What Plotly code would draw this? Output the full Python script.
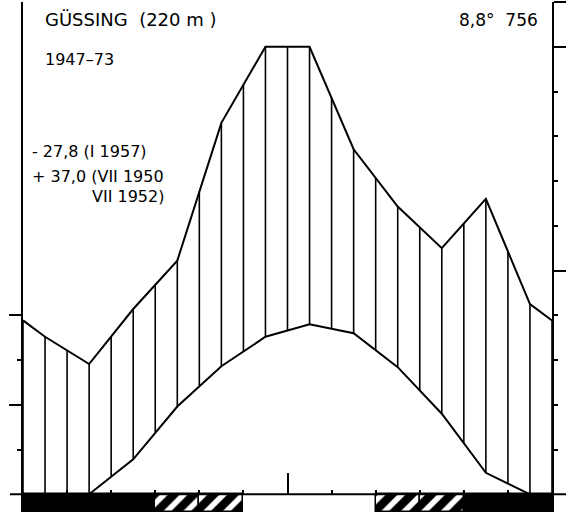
import numpy as np
import plotly.graph_objects as go

# ---------------- data ----------------
months = ["Jan", "Feb", "Mar", "Apr", "May", "Jun", "Jul", "Aug", "Sep", "Oct", "Nov", "Dec"]
temp_c = [-2.6, 0.0, 3.9, 9.8, 14.3, 17.6, 19.0, 18.0, 14.2, 9.0, 2.4, 0.0]
precip_mm = [35.2, 29.1, 41.4, 52.2, 83.0, 100.0, 100.0, 77.1, 64.3, 55.0, 66.0, 42.5]
frost_sure = ["Jan", "Feb", "Mar", "Nov", "Dec"]      # black bar
frost_possible = ["Apr", "May", "Sep", "Oct"]         # hatched bar

station = "GÜSSING\u00a0\u00a0(220 m )"
period = "1947–73"
abs_min = "- 27,8\u00a0(I 1957)"
abs_max_1 = "+ 37,0\u00a0(VII 1950"
abs_max_2 = "VII 1952)"
mean_info = "8,8°\u00a0\u00a0756"

# ---------------- geometry helpers ----------------
W, H = 568, 516
ML, MR, MT, MB = 23, 16, 2, 4
PW, PH = W - ML - MR, H - MT - MB
T_TOP = 55.0
BAR_D = 1.98          # depth of the frost bar below the baseline (in degC units)
P_SCALE = 2.0         # 10 degC = 20 mm


def px_x(p):
    return (p - ML) / PW


def px_y(p):
    return (H - MB - p) / PH


# month centres plus half-month extension to the axes (Walter-Lieth convention)
xc = [0.0] + [i + 0.5 for i in range(12)] + [12.0]
t_edge = (temp_c[0] + temp_c[-1]) / 2
p_edge = (precip_mm[0] + precip_mm[-1]) / 2
t_ext = [t_edge] + temp_c + [t_edge]
p_ext = [p_edge] + precip_mm + [p_edge]

# vertical hatching between the curves every half month
hx, hy = [], []
for xv in np.arange(0, 12.001, 0.5):
    lo = max(float(np.interp(xv, xc, t_ext)), 0.0)
    hi = float(np.interp(xv, xc, p_ext)) / P_SCALE
    if hi > lo:
        hx += [xv, xv, None]
        hy += [lo, hi, None]

fig = go.Figure()

# frost bars below the baseline
fig.add_trace(go.Bar(
    x=[months.index(m) + 0.5 for m in frost_sure],
    y=[-BAR_D] * len(frost_sure), width=1.0,
    marker=dict(color="black", line=dict(color="black", width=1.5)),
    hoverinfo="skip"))
fig.add_trace(go.Bar(
    x=[months.index(m) + 0.5 for m in frost_possible],
    y=[-BAR_D] * len(frost_possible), width=1.0,
    marker=dict(color="black", line=dict(color="black", width=1.5),
                pattern=dict(shape="/", fgcolor="white", bgcolor="black",
                             size=14, solidity=0.4, fillmode="replace")),
    hoverinfo="skip"))

# hatching
fig.add_trace(go.Scatter(x=hx, y=hy, mode="lines",
                         line=dict(color="black", width=1.6), hoverinfo="skip"))
# temperature curve
fig.add_trace(go.Scatter(x=xc, y=t_ext, mode="lines",
                         line=dict(color="black", width=2), hoverinfo="skip"))
# precipitation curve
fig.add_trace(go.Scatter(x=xc, y=p_ext, mode="lines", yaxis="y2",
                         line=dict(color="black", width=2), hoverinfo="skip"))

# baseline extending beyond both axes
fig.add_shape(type="line", xref="paper", yref="y",
              x0=px_x(10), x1=px_x(566), y0=0, y1=0,
              line=dict(color="black", width=2))

font = dict(family="DejaVu Sans", color="black")
ann = [
    (station, 43, 20, 18, "left"),
    (period, 43, 59, 16, "left"),
    (abs_min, 30, 152, 16, "left"),
    (abs_max_1, 30, 176, 16, "left"),
    (abs_max_2, 90, 196, 16, "left"),
    (mean_info, 540, 20, 17, "right"),
]
for txt, x, y, s, anc in ann:
    fig.add_annotation(text=txt, x=px_x(x), y=px_y(y), xref="paper", yref="paper",
                       xanchor=anc, yanchor="middle", showarrow=False,
                       font=dict(size=s, **font))

fig.update_layout(
    width=W, height=H, margin=dict(l=ML, r=MR, t=MT, b=MB),
    paper_bgcolor="white", plot_bgcolor="white", showlegend=False,
    barmode="overlay", bargap=0,
    xaxis=dict(range=[0, 12], showgrid=False, zeroline=False, showline=False,
               anchor="free", position=BAR_D / (T_TOP + BAR_D),
               ticks="inside", tickvals=[6], ticklen=21, tickwidth=1.5,
               tickcolor="black", showticklabels=False,
               minor=dict(ticks="inside", tickvals=[1, 2, 3, 4, 5, 7, 8, 9, 10, 11, 12],
                          ticklen=4, tickwidth=1.5, tickcolor="black")),
    yaxis=dict(range=[-BAR_D, T_TOP], showgrid=False, zeroline=False,
               showline=True, linecolor="black", linewidth=2,
               ticks="outside", tickvals=[10, 20], ticklen=12, tickwidth=2,
               tickcolor="black", showticklabels=False,
               minor=dict(ticks="outside", tickvals=[5, 15], ticklen=4,
                          tickwidth=2, tickcolor="black")),
    yaxis2=dict(range=[-BAR_D * P_SCALE, T_TOP * P_SCALE], overlaying="y", side="right",
                showgrid=False, zeroline=False, showline=True, linecolor="black",
                linewidth=2, ticks="outside", tickvals=[50, 100, 110], ticklen=12,
                tickwidth=2, tickcolor="black", showticklabels=False,
                minor=dict(ticks="outside", tickvals=[10, 20, 30, 40, 60, 70, 80, 90],
                           ticklen=4, tickwidth=2, tickcolor="black")),
)

fig.write_html("out.html")
